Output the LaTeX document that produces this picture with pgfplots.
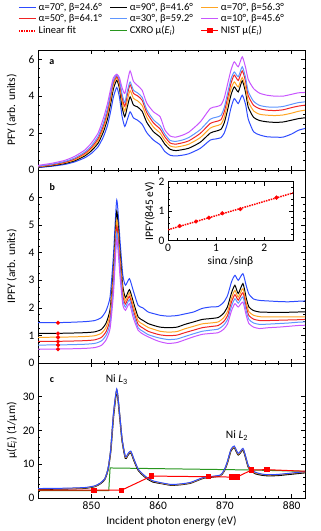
\documentclass[border=0pt]{standalone}
\usepackage{fontspec}
\setmainfont{Carlito}
\usepackage{pgfplots}
\usepackage{pgfplotstable}
\pgfplotsset{compat=1.18}

\definecolor{cblue}{RGB}{45,75,255}
\definecolor{corange}{RGB}{255,165,35}
\definecolor{cred}{RGB}{240,35,35}
\definecolor{clblue}{RGB}{95,150,255}
\definecolor{cpurple}{RGB}{200,85,255}
\definecolor{cgreen}{RGB}{40,150,30}
\definecolor{nist}{RGB}{255,0,0}

% PFY, panel a (columns: 70/24.6, 90/41.6, 70/56.3, 50/64.1, 30/59.2, 10/45.6)
\pgfplotstableread{
E     b    k    o    r    l    p
842   0.13 0.15 0.17 0.19 0.21 0.25
844   0.20 0.23 0.26 0.28 0.31 0.36
846   0.30 0.35 0.39 0.42 0.46 0.52
847.5 0.44 0.50 0.55 0.60 0.65 0.74
849   0.66 0.76 0.83 0.90 0.97 1.08
850   0.90 1.04 1.13 1.22 1.31 1.46
851   1.26 1.45 1.58 1.70 1.82 2.00
851.8 1.80 2.07 2.25 2.40 2.55 2.80
852.4 2.40 2.75 2.98 3.16 3.32 3.58
852.9 3.20 3.62 3.86 4.04 4.18 4.42
853.3 3.95 4.40 4.62 4.75 4.86 5.00
853.8 4.47 4.86 5.00 5.06 5.15 5.19
854.2 3.95 4.42 4.62 4.75 4.88 5.00
854.6 2.90 3.40 3.70 3.92 4.10 4.45
855.0 2.36 2.88 3.18 3.45 3.65 4.14
855.4 2.75 3.45 3.80 4.10 4.30 4.80
855.8 3.15 3.96 4.30 4.62 4.77 5.37
856.3 2.82 3.52 3.88 4.15 4.32 4.80
856.9 2.70 3.42 3.75 4.02 4.18 4.58
857.6 2.48 3.18 3.50 3.78 3.94 4.32
858.3 2.02 2.58 2.86 3.10 3.26 3.62
859.3 1.62 2.07 2.32 2.55 2.72 3.15
860.3 1.36 1.78 2.00 2.22 2.40 2.88
861.0 1.00 1.40 1.60 1.80 1.95 2.18
861.8 0.80 1.12 1.30 1.46 1.60 1.84
862.6 0.76 1.05 1.24 1.40 1.55 1.78
863.6 0.80 1.10 1.30 1.47 1.62 1.88
864.6 0.88 1.18 1.40 1.58 1.76 2.05
866.3 1.17 1.50 1.75 1.98 2.18 2.60
867.8 1.62 2.00 2.27 2.52 2.75 3.33
868.6 1.68 2.10 2.38 2.62 2.85 3.42
869.4 1.75 2.20 2.48 2.72 2.95 3.52
869.9 2.00 2.55 2.85 3.15 3.38 3.90
870.4 2.55 3.25 3.60 3.90 4.15 4.65
870.9 3.35 4.05 4.38 4.68 4.92 5.40
871.4 3.87 4.50 4.77 5.14 5.31 5.86
872.0 3.60 4.23 4.50 4.85 5.05 5.59
872.6 4.05 4.83 5.01 5.37 5.59 6.13
873.1 3.55 4.20 4.45 4.80 5.00 5.55
873.5 2.75 3.40 3.70 4.02 4.25 4.90
874.3 2.07 2.85 3.20 3.50 3.72 4.41
875.2 1.90 2.68 3.02 3.32 3.50 4.16
876.3 1.80 2.61 2.97 3.24 3.42 4.05
877.5 1.78 2.58 2.95 3.22 3.40 4.00
878.7 1.78 2.60 2.98 3.26 3.44 4.00
880   1.95 2.70 3.08 3.38 3.56 4.10
881   2.15 2.78 3.18 3.46 3.65 4.18
882   2.25 2.83 3.24 3.51 3.69 4.20
}\pfy

% IPFY, panel b
\pgfplotstableread{
E     b    k    o    r    l    p
842   1.46 1.07 0.93 0.78 0.65 0.50
846   1.47 1.08 0.94 0.79 0.66 0.51
849   1.50 1.10 0.96 0.81 0.68 0.53
850.5 1.54 1.13 0.99 0.84 0.71 0.56
851.5 1.65 1.22 1.08 0.93 0.80 0.64
852.2 1.90 1.45 1.30 1.14 1.00 0.84
852.8 2.40 1.95 1.78 1.60 1.45 1.25
853.3 3.90 3.40 3.15 2.95 2.75 2.50
853.8 5.91 5.50 5.19 4.95 4.73 4.47
854.3 4.40 4.00 3.75 3.55 3.35 3.10
854.7 3.20 2.80 2.62 2.45 2.30 2.12
855.1 2.82 2.37 2.25 2.14 2.03 1.91
855.7 3.06 2.66 2.54 2.42 2.30 2.15
856.3 2.60 2.20 2.05 1.90 1.77 1.62
857.0 2.09 1.67 1.53 1.40 1.28 1.19
857.7 2.00 1.55 1.41 1.27 1.15 1.05
858.5 1.85 1.43 1.29 1.15 1.03 0.95
859.5 1.78 1.35 1.21 1.07 0.95 0.84
860.3 1.73 1.30 1.15 1.02 0.90 0.77
861.5 1.70 1.28 1.12 0.99 0.85 0.71
862.8 1.72 1.30 1.14 1.01 0.87 0.74
864.0 1.78 1.40 1.24 1.10 0.96 0.84
865.3 1.85 1.49 1.33 1.19 1.06 0.95
866.6 1.98 1.58 1.42 1.28 1.15 1.04
867.8 2.03 1.61 1.45 1.32 1.19 1.07
869.0 2.05 1.65 1.49 1.36 1.23 1.10
869.8 2.20 1.80 1.64 1.50 1.37 1.22
870.4 2.45 2.05 1.87 1.72 1.58 1.42
871.0 2.95 2.55 2.37 2.22 2.07 1.90
871.5 3.18 2.82 2.63 2.48 2.33 2.15
872.0 3.00 2.52 2.39 2.28 2.17 2.03
872.7 3.24 2.88 2.70 2.55 2.40 2.21
873.2 2.80 2.35 2.18 2.03 1.88 1.72
873.6 2.50 2.03 1.86 1.72 1.58 1.43
874.3 2.32 1.90 1.73 1.59 1.45 1.30
875.2 2.27 1.85 1.68 1.54 1.40 1.25
876.5 2.25 1.84 1.67 1.54 1.41 1.28
878.0 2.23 1.84 1.67 1.55 1.43 1.30
879.5 2.22 1.84 1.67 1.56 1.45 1.33
881.0 2.24 1.85 1.67 1.57 1.48 1.36
882   2.25 1.85 1.67 1.58 1.49 1.37
}\ipfy

% mu(E_i), panel c
\pgfplotstableread{
E     k    o    b
842   2.6  2.7  2.8
846   2.7  2.8  2.9
849   2.9  3.0  3.1
850.5 3.4  3.5  3.6
851.3 4.2  4.3  4.4
852.0 5.5  5.6  5.7
852.5 8.5  8.6  8.7
852.9 14.0 14.2 14.5
853.3 24.0 24.5 25.0
853.8 31.8 32.0 32.3
854.2 25.0 25.3 25.5
854.6 17.0 17.3 17.5
855.1 11.8 12.0 12.2
855.5 12.8 13.0 13.2
855.9 13.5 13.7 13.9
856.4 11.0 11.2 11.4
857.0 8.3  8.5  8.6
857.7 6.8  7.0  7.1
858.3 5.8  6.0  6.1
859.2 4.8  5.0  5.1
860.5 4.3  4.4  4.5
862.0 3.8  3.9  4.0
863.5 4.0  4.1  4.2
864.8 4.4  4.5  4.6
866.0 5.3  5.4  5.5
866.8 5.9  6.0  6.1
868.0 6.2  6.3  6.4
869.3 6.6  6.7  6.8
869.9 8.0  8.1  8.3
870.4 10.6 10.8 11.0
870.9 14.0 14.2 14.4
871.4 15.0 15.2 15.4
872.0 12.8 13.0 13.2
872.7 14.3 14.5 14.7
873.1 12.0 12.2 12.4
873.5 9.2  9.4  9.6
874.0 8.0  8.2  8.4
874.6 7.2  7.4  7.6
875.5 6.8  7.0  7.1
876.5 6.6  6.8  6.9
878.0 6.7  6.9  7.0
879.5 7.0  7.2  7.3
881.0 7.3  7.5  7.6
882   7.5  7.7  7.8
}\mu

\pgfplotsset{
  base/.style={
    scale only axis,
    tick align=inside,
    major tick length=4bp, minor tick length=2.3bp,
    axis line style={line width=0.9pt},
    every tick/.style={black, line width=0.6pt},
    tick label style={font=\fontsize{11.5}{12}\selectfont},
    label style={font=\fontsize{11.5}{12}\selectfont},
    /pgf/number format/assume math mode=true,
  },
  panel/.style={
    base, width=267bp,
    xmin=842, xmax=882, xtick={850,860,870,880}, minor x tick num=4,
    ylabel style={at={(axis description cs:-0.098,0.5)}, anchor=center},
  },
  spec/.style={line width=1pt, smooth, tension=0.35},
}

\begin{document}
\begin{tikzpicture}
\useasboundingbox (0,0) rectangle (321bp,531bp);

% ---- a: PFY ----
\begin{axis}[panel, at={(38bp,361bp)}, anchor=south west, height=120bp,
  ymin=0, ymax=6.5, ytick={0,2,4,6}, minor y tick num=3,
  xticklabels={}, ylabel={PFY (arb. units)},
  legend columns=3,
  legend style={at={(axis description cs:-0.075,1.41)}, anchor=north west,
    draw=none, fill=none, font=\fontsize{10.5}{12}\selectfont,
    inner sep=0pt, row sep=-1bp,
    /tikz/every even column/.append style={column sep=6bp}},
  legend cell align=left]
  \addplot[spec, cblue] table[x=E,y=b]{\pfy};
  \addplot[spec, black] table[x=E,y=k]{\pfy};
  \addplot[spec, corange] table[x=E,y=o]{\pfy};
  \addplot[spec, cred] table[x=E,y=r]{\pfy};
  \addplot[spec, clblue] table[x=E,y=l]{\pfy};
  \addplot[spec, cpurple] table[x=E,y=p]{\pfy};
  \addlegendimage{nist, densely dotted, line width=1.5pt}
  \addlegendimage{cgreen, line width=1pt}
  \addlegendimage{nist, line width=1pt, mark=square*, mark size=2.1bp}
  \legend{{α=70°, β=24.6°}, {α=90°, β=41.6°}, {α=70°, β=56.3°},
    {α=50°, β=64.1°}, {α=30°, β=59.2°}, {α=10°, β=45.6°},
    {Linear fit}, {CXRO μ(\textit{E}\textsubscript{\textit{i}})},
    {NIST μ(\textit{E}\textsubscript{\textit{i}})}}
  \node[font=\bfseries\fontsize{10}{12}\selectfont] at (axis description cs:0.052,0.9) {a};
\end{axis}

% ---- b: IPFY ----
\begin{axis}[panel, at={(38bp,168bp)}, anchor=south west, height=193bp,
  ymin=0, ymax=7, ytick={0,1,2,3,4,5,6}, minor y tick num=3,
  xticklabels={}, ylabel={IPFY (arb. units)}]
  \addplot[spec, cblue] table[x=E,y=b]{\ipfy};
  \addplot[spec, black] table[x=E,y=k]{\ipfy};
  \addplot[spec, corange] table[x=E,y=o]{\ipfy};
  \addplot[spec, cred] table[x=E,y=r]{\ipfy};
  \addplot[spec, clblue] table[x=E,y=l]{\ipfy};
  \addplot[spec, cpurple] table[x=E,y=p]{\ipfy};
  \addplot[only marks, mark=*, nist, mark size=1.9bp] coordinates {
    (845,1.46) (845,1.07) (845,0.93) (845,0.78) (845,0.65) (845,0.50)};
  \node[font=\bfseries\fontsize{10}{12}\selectfont] at (axis description cs:0.054,0.913) {b};
\end{axis}

% ---- inset ----
\begin{axis}[base, at={(168bp,290.3bp)}, anchor=south west, width=125bp, height=59bp,
  axis background/.style={fill=white},
  xmin=0, xmax=2.6, ymin=0, ymax=2, xtick={0,1,2}, ytick={0,1,2},
  minor x tick num=4, minor y tick num=4,
  xlabel={sinα /sinβ}, ylabel={IPFY(845 eV)},
  xlabel style={yshift=2bp}, ylabel style={yshift=-3bp}]
  \addplot[nist, densely dotted, line width=1.5pt] coordinates {(0,0.37) (2.6,1.618)};
  \addplot[only marks, mark=*, nist, mark size=1.9bp] coordinates {
    (0.243,0.50) (0.582,0.65) (0.851,0.78) (1.130,0.93) (1.506,1.07) (2.257,1.46)};
\end{axis}

% ---- c: mu ----
\begin{axis}[panel, at={(38bp,33bp)}, anchor=south west, height=135bp,
  ymin=0, ymax=40, ytick={0,10,20,30}, minor y tick num=4,
  xlabel={Incident photon energy (eV)},
  ylabel={μ(\textit{E}\textsubscript{\textit{i}}) (1/μm)}]
  \addplot[cgreen, line width=1pt] coordinates {
    (842,2.15) (852.6,2.15) (852.8,8.9) (874,8.3) (882,7.9)};
  \addplot[spec, black, line width=1.4pt] table[x=E,y=k]{\mu};
  \addplot[spec, corange] table[x=E,y=o]{\mu};
  \addplot[spec, cblue] table[x=E,y=b]{\mu};
  \addplot[nist, line width=1pt, mark=square*, mark size=2.1bp] coordinates {
    (838,2.3) (850.4,2.3) (854.5,2.3) (859.0,6.5) (867.5,6.3) (871.0,6.2)
    (871.8,6.2) (874.0,8.3) (876.3,8.4) (886,7.6)};
  \node[font=\bfseries\fontsize{10}{12}\selectfont] at (axis description cs:0.052,0.874) {c};
  \node[font=\fontsize{11.5}{12}\selectfont] at (axis cs:853.8,35.2) {Ni \textit{L}\textsubscript{3}};
  \node[font=\fontsize{11.5}{12}\selectfont] at (axis cs:871.8,18.4) {Ni \textit{L}\textsubscript{2}};
\end{axis}
\end{tikzpicture}
\end{document}
